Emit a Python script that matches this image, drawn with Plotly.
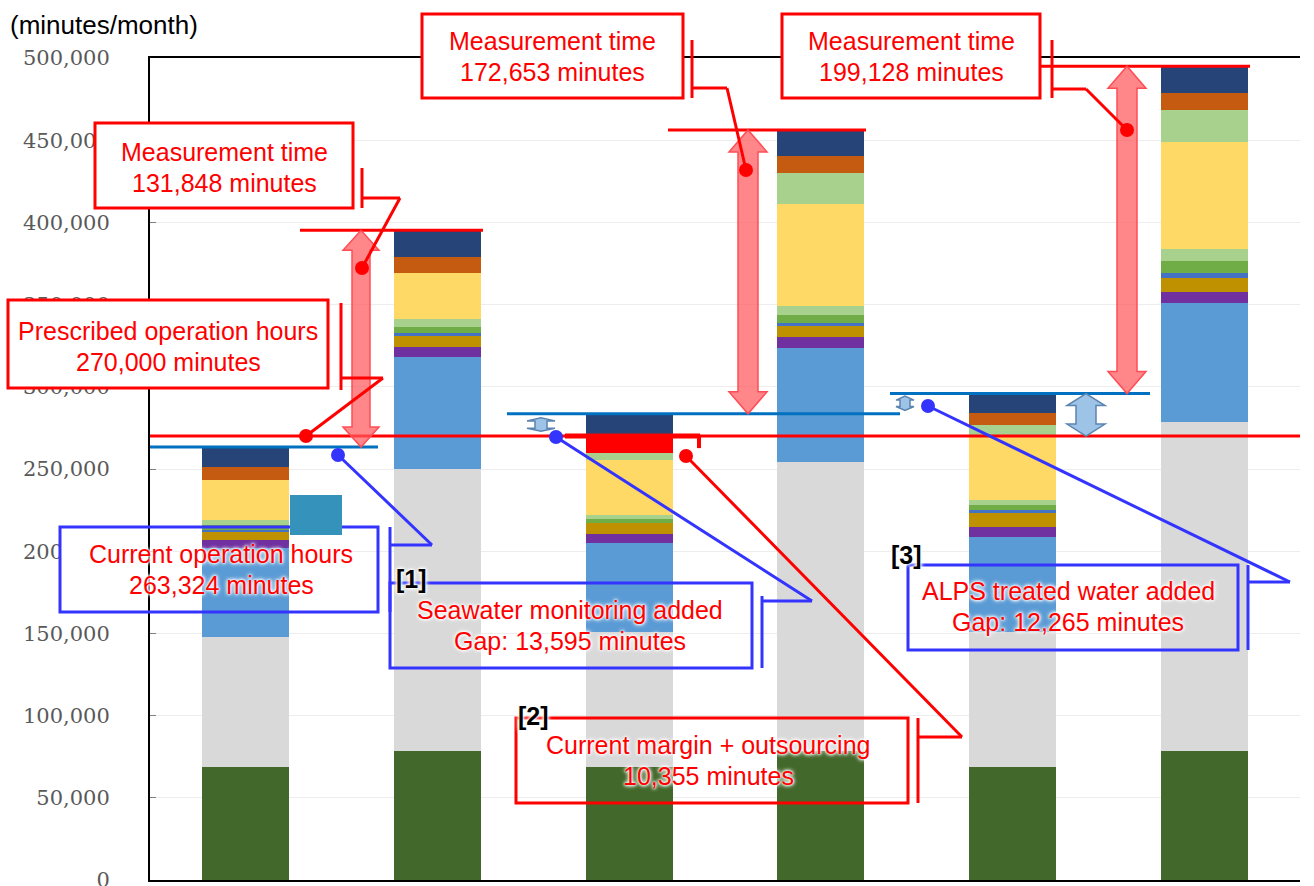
import plotly.graph_objects as go

# ---------------- data ----------------
cases = ["Current", "Current + measurement", "[1]+[2]", "[1]+[2] + measurement", "[3]", "[3] + measurement"]

seg_dark_green  = [69000, 78500, 69000, 78500, 69000, 78500]
seg_gray        = [78800, 171500, 81900, 175800, 81900, 200100]
seg_blue        = [54150, 68100, 54100, 69300, 57700, 72400]
seg_purple      = [4850, 6100, 5500, 6700, 6100, 6700]
seg_gold        = [4900, 6700, 6700, 6700, 8500, 8500]
seg_steel       = [1300, 1800, 0, 1800, 1900, 3000]
seg_green       = [3000, 3600, 2400, 4900, 3000, 7300]
seg_light_green = [3000, 4900, 2400, 5500, 3000, 7300]
seg_yellow      = [24300, 28000, 33500, 62000, 38900, 65100]
seg_pale_green  = [0, 0, 4145, 18900, 6800, 19500]
seg_orange      = [7900, 9700, 10355, 10300, 7300, 10300]
seg_navy        = [12124, 16272, 13595, 15848, 11760, 16288]

prescribed_minutes = 270000
current_minutes = 263324
measurement_minutes = [131848, 172653, 199128]
seawater_gap = 13595
margin_outsourcing = 10355
alps_gap = 12265

y_ticks = list(range(0, 500001, 50000))
y_tick_labels = [f"{v:,}" for v in y_ticks]

# derived levels
case12_level = prescribed_minutes + seawater_gap
case3_level = case12_level + alps_gap
bases = [current_minutes, case12_level, case3_level]
tops = [b + m for b, m in zip(bases, measurement_minutes)]

# ---------------- styling ----------------
RED = "#FF0000"
BLUE_BOX = "#3434FF"
BLUE_LINE = "#0070C0"
FONT = "Liberation Sans, Arial, sans-serif"
HALO = "0 0 2px #fff, 0 0 3px #fff, 0 0 4px #fff, 0 0 5px #fff"
TXT = 25

orange_colors = ["#C55A11"] * 6
orange_colors[2] = RED  # highlighted margin + outsourcing block

segments = [
    (seg_dark_green, "#43682B"),
    (seg_gray, "#D9D9D9"),
    (seg_blue, "#5B9BD5"),
    (seg_purple, "#7030A0"),
    (seg_gold, "#BF9000"),
    (seg_steel, "#4472C4"),
    (seg_green, "#70AD47"),
    (seg_light_green, "#A9D18E"),
    (seg_yellow, "#FFD966"),
    (seg_pale_green, "#A9D18E"),
    (seg_orange, orange_colors),
    (seg_navy, "#264478"),
]

fig = go.Figure()
for vals, color in segments:
    fig.add_trace(go.Bar(x=cases, y=vals, width=0.455, marker=dict(color=color, line=dict(width=0)),
                         hoverinfo="skip"))

# ---------------- geometry helpers (pixel -> paper) ----------------
W, H = 1314, 886
ML, MR, MT, MB = 150, 14, 58, 6
PW, PH = W - ML - MR, H - MT - MB
YMAX = 500000


def px(x):
    return (x - ML) / PW


def py(y):
    return (H - MB - y) / PH


def pv(v):
    return v / YMAX


shapes = []
annotations = []


def line(x0, y0, x1, y1, color, width=3):
    shapes.append(dict(type="line", xref="paper", yref="paper", x0=x0, y0=y0, x1=x1, y1=y1,
                       line=dict(color=color, width=width), layer="above"))


def line_px(x0, y0, x1, y1, color, width=3):
    line(px(x0), py(y0), px(x1), py(y1), color, width)


def level_line(v, x0, x1, color, width=3):
    line(px(x0), pv(v), px(x1), pv(v), color, width)


def rect_px(x0, y0, x1, y1, color=None, width=3, fill=None):
    shapes.append(dict(type="rect", xref="paper", yref="paper", x0=px(x0), y0=py(y1), x1=px(x1), y1=py(y0),
                       line=dict(color=color or "rgba(0,0,0,0)", width=width if color else 0),
                       fillcolor=fill or "rgba(0,0,0,0)", layer="above"))


def dot_px(cx, cy, color, r=7):
    shapes.append(dict(type="circle", xref="paper", yref="paper", x0=px(cx - r), x1=px(cx + r),
                       y0=py(cy + r), y1=py(cy - r), line=dict(color=color, width=0),
                       fillcolor=color, layer="above"))


def double_arrow(xc, v_lo, v_hi, shaft, head, head_len, fill, edge):
    xl, xr = px(xc - shaft), px(xc + shaft)
    hl, hr = px(xc - head), px(xc + head)
    xm = px(xc)
    yt, yb = pv(v_hi), pv(v_lo)
    d = head_len / PH
    path = (f"M{xl},{yt - d} L{hl},{yt - d} L{xm},{yt} L{hr},{yt - d} L{xr},{yt - d} "
            f"L{xr},{yb + d} L{hr},{yb + d} L{xm},{yb} L{hl},{yb + d} L{xl},{yb + d} Z")
    shapes.append(dict(type="path", xref="paper", yref="paper", path=path, fillcolor=fill,
                       line=dict(color=edge, width=1.5), layer="above"))


def text_px(x, y, text, color=RED, size=TXT, bold=False):
    annotations.append(dict(xref="paper", yref="paper", x=px(x), y=py(y), text=text, showarrow=False,
                            xanchor="center", yanchor="middle",
                            font=dict(family=FONT, size=size, color=color,
                                      weight="bold" if bold else "normal", shadow=HALO)))


# ---------------- level lines ----------------
level_line(current_minutes, 150, 378, BLUE_LINE)
level_line(case12_level, 507, 900, BLUE_LINE)
level_line(case3_level, 890, 1150, BLUE_LINE)
level_line(prescribed_minutes, 150, 1300, RED)
level_line(tops[0], 300, 483, RED)
level_line(tops[1], 668, 866, RED)
level_line(tops[2], 1040, 1250, RED)

# bracket on the highlighted margin block
level_line(prescribed_minutes, 565, 700, RED, 5)
line(px(699), pv(prescribed_minutes), px(699), pv(prescribed_minutes) - 12 / PH, RED, 4)

# ---------------- arrows ----------------
PINK, PINK_EDGE = "rgba(255,88,92,0.72)", "#FF4D55"
LBLUE, LBLUE_EDGE = "#9DC3E6", "#5B84B0"
double_arrow(361, bases[0], tops[0], 9, 18, 20, PINK, PINK_EDGE)
double_arrow(748, bases[1], tops[1], 10, 19, 22, PINK, PINK_EDGE)
double_arrow(1127, bases[2], tops[2], 10, 19, 22, PINK, PINK_EDGE)
double_arrow(1086, prescribed_minutes, case3_level, 10, 19, 12, LBLUE, LBLUE_EDGE)
double_arrow(541, prescribed_minutes + 3000, case12_level - 2500, 6, 14, 3, LBLUE, LBLUE_EDGE)
double_arrow(905, case12_level + 2000, case3_level - 1500, 5, 9, 4, LBLUE, LBLUE_EDGE)

# ---------------- callout boxes ----------------
# Measurement time (current)
rect_px(95, 123, 353, 208, RED, 3, "white")
text_px(224, 152, "Measurement time")
text_px(224, 183, f"{measurement_minutes[0]:,} minutes")
line_px(362, 168, 362, 208, RED)
line_px(362, 198, 400, 198, RED)
line_px(400, 198, 362, 268, RED)

# Prescribed operation hours
rect_px(8, 300, 328, 388, RED, 3, "white")
text_px(168, 331, "Prescribed operation hours")
text_px(168, 362, f"{prescribed_minutes:,} minutes")
line_px(341, 303, 341, 390, RED)
line_px(341, 378, 383, 378, RED)
line_px(383, 378, 306, 436, RED)

# Measurement time ([1]+[2])
rect_px(422, 14, 683, 98, RED, 3, "white")
text_px(552, 41, "Measurement time")
text_px(552, 72, f"{measurement_minutes[1]:,} minutes")
line_px(692, 40, 692, 98, RED)
line_px(692, 88, 727, 88, RED)
line_px(727, 88, 746, 170, RED)

# Measurement time ([3])
rect_px(782, 14, 1040, 98, RED, 3, "white")
text_px(911, 41, "Measurement time")
text_px(911, 72, f"{measurement_minutes[2]:,} minutes")
line_px(1052, 40, 1052, 98, RED)
line_px(1052, 89, 1086, 89, RED)
line_px(1086, 89, 1127, 130, RED)

# Current operation hours
rect_px(60, 527, 148, 612, None, 0, "white")
rect_px(60, 527, 378, 612, BLUE_BOX, 3)
text_px(221, 554, "Current operation hours")
text_px(221, 585, f"{current_minutes:,} minutes")
line_px(390, 527, 390, 612, BLUE_BOX)
line_px(390, 545, 432, 545, BLUE_BOX)
line_px(432, 545, 338, 455, BLUE_BOX)

# [1] Seawater monitoring
rect_px(390, 583, 752, 668, BLUE_BOX, 3)
text_px(411, 579, "[1]", "black", 25, True)
text_px(570, 610, "Seawater monitoring added")
text_px(570, 641, f"Gap: {seawater_gap:,} minutes")
line_px(762, 596, 762, 668, BLUE_BOX)
line_px(762, 601, 812, 601, BLUE_BOX)
line_px(812, 601, 556, 437, BLUE_BOX)

# [2] Current margin + outsourcing
rect_px(516, 718, 908, 803, RED, 3)
text_px(533, 716, "[2]", "black", 25, True)
text_px(708, 745, "Current margin + outsourcing")
text_px(708, 776, f"{margin_outsourcing:,} minutes")
line_px(918, 718, 918, 803, RED)
line_px(918, 737, 962, 737, RED)
line_px(962, 737, 686, 456, RED)

# [3] ALPS treated water
rect_px(908, 565, 1238, 650, BLUE_BOX, 3)
text_px(906, 555, "[3]", "black", 25, True)
text_px(1068, 591, "ALPS treated water added")
text_px(1068, 622, f"Gap: {alps_gap:,} minutes")
line_px(1248, 565, 1248, 650, BLUE_BOX)
line_px(1248, 582, 1290, 582, BLUE_BOX)
line_px(1290, 582, 928, 406, BLUE_BOX)

# markers at callout anchors
for cx, cy in [(362, 268), (306, 436), (746, 170), (1127, 130), (686, 456)]:
    dot_px(cx, cy, RED)
for cx, cy in [(338, 455), (556, 437), (928, 406)]:
    dot_px(cx, cy, BLUE_BOX)

# small teal marker block
rect_px(290, 495, 342, 535, None, 0, "#3592BA")

# axis unit label
annotations.append(dict(xref="paper", yref="paper", x=px(8), y=py(25), text="(minutes/month)",
                        showarrow=False, xanchor="left", yanchor="middle",
                        font=dict(family=FONT, size=26, color="black")))

fig.update_layout(
    width=W, height=H,
    margin=dict(l=ML, r=MR, t=MT, b=MB, autoexpand=False),
    paper_bgcolor="white", plot_bgcolor="white",
    barmode="stack", showlegend=False,
    shapes=shapes, annotations=annotations,
    xaxis=dict(range=[-0.5, 5.5], showticklabels=False, ticks="", showgrid=False, zeroline=False,
               showline=True, mirror=True, linecolor="black", linewidth=2, automargin=False),
    yaxis=dict(range=[0, YMAX], tickvals=y_ticks, ticktext=y_tick_labels, ticks="inside", ticklen=6,
               tickcolor="#7F7F7F", showline=True, linecolor="black", linewidth=2,
               showgrid=True, gridcolor="#EDEDED", gridwidth=1, zeroline=False,
               ticklabelstandoff=34, ticklabeloverflow="allow", automargin=False,
               tickfont=dict(family="DejaVu Serif", size=21, color="#595959")),
)

fig.write_html("out.html")
